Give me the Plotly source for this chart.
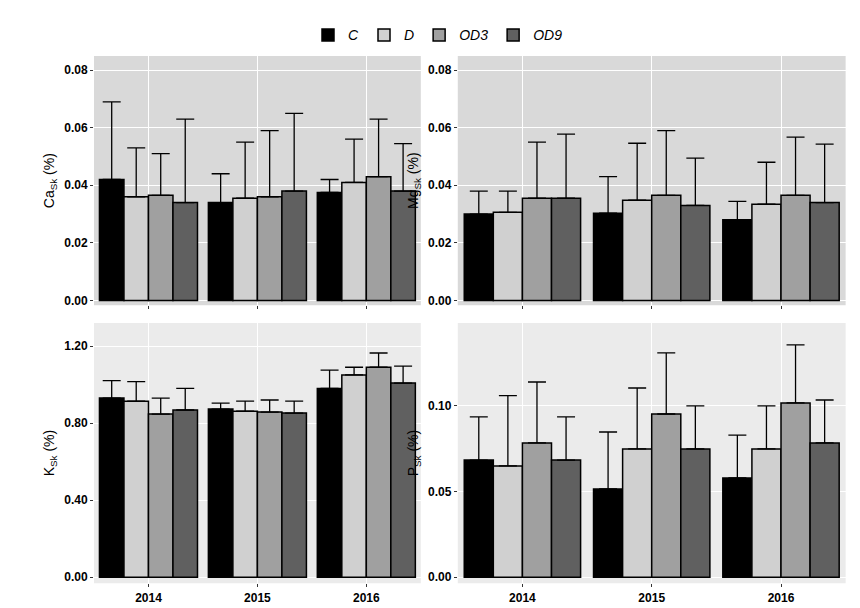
import plotly.graph_objects as go

years = ["2014", "2015", "2016"]
groups = ["C", "D", "OD3", "OD9"]
colors = {"C": "#000000", "D": "#d0d0d0", "OD3": "#a0a0a0", "OD9": "#606060"}

# mean and upper error bar end, per treatment, per year
ca_mean = {"C": [0.042, 0.034, 0.0375], "D": [0.036, 0.0355, 0.041],
           "OD3": [0.0365, 0.036, 0.043], "OD9": [0.034, 0.038, 0.038]}
ca_top = {"C": [0.069, 0.044, 0.042], "D": [0.053, 0.055, 0.056],
          "OD3": [0.051, 0.059, 0.063], "OD9": [0.063, 0.065, 0.0545]}
mg_mean = {"C": [0.030, 0.0303, 0.028], "D": [0.0306, 0.0348, 0.0334],
           "OD3": [0.0355, 0.0365, 0.0365], "OD9": [0.0355, 0.033, 0.034]}
mg_top = {"C": [0.038, 0.043, 0.0344], "D": [0.038, 0.0546, 0.048],
          "OD3": [0.055, 0.059, 0.0567], "OD9": [0.0578, 0.0494, 0.0543]}
k_mean = {"C": [0.93, 0.873, 0.98], "D": [0.914, 0.862, 1.05],
          "OD3": [0.847, 0.857, 1.09], "OD9": [0.868, 0.852, 1.008]}
k_top = {"C": [1.02, 0.904, 1.075], "D": [1.015, 0.914, 1.09],
         "OD3": [0.93, 0.92, 1.164], "OD9": [0.98, 0.914, 1.096]}
p_mean = {"C": [0.0684, 0.0515, 0.058], "D": [0.065, 0.0749, 0.0749],
          "OD3": [0.0784, 0.0953, 0.1018], "OD9": [0.0684, 0.0749, 0.0784]}
p_top = {"C": [0.0936, 0.0848, 0.083], "D": [0.106, 0.1105, 0.10],
         "OD3": [0.114, 0.131, 0.1357], "OD9": [0.0936, 0.10, 0.1035]}

panels = [
    (ca_mean, ca_top, "x", "y", "Ca<sub>Sk</sub> (%)", [-0.0017, 0.0849], [0, 0.02, 0.04, 0.06, 0.08], "#d9d9d9"),
    (mg_mean, mg_top, "x2", "y2", "Mg<sub>Sk</sub> (%)", [-0.0017, 0.0849], [0, 0.02, 0.04, 0.06, 0.08], "#d9d9d9"),
    (k_mean, k_top, "x3", "y3", "K<sub>Sk</sub> (%)", [-0.031, 1.32], [0, 0.4, 0.8, 1.2], "#ebebeb"),
    (p_mean, p_top, "x4", "y4", "P<sub>Sk</sub> (%)", [-0.0035, 0.1485], [0, 0.05, 0.1], "#ebebeb"),
]

fig = go.Figure()
for i, (mean, top, xa, ya, title, rng, ticks, bg) in enumerate(panels):
    for g in groups:
        fig.add_trace(go.Bar(
            x=years, y=mean[g], xaxis=xa, yaxis=ya, name=g,
            showlegend=(i == 0), legendgroup=g,
            marker=dict(color=colors[g], line=dict(color="black", width=1.5)),
            error_y=dict(type="data", symmetric=False,
                         array=[t - m for t, m in zip(top[g], mean[g])],
                         arrayminus=[0, 0, 0], color="black", thickness=1.3, width=9),
        ))

doms_x = [[0.1, 0.48], [0.523, 0.974], [0.1, 0.48], [0.523, 0.974]]
doms_y = [[0.511, 0.921], [0.511, 0.921], [0.054, 0.482], [0.054, 0.482]]
tick_font = dict(family="Arial", size=12, color="black", weight="bold")
layout = dict(
    barmode="group", bargap=0.1, bargroupgap=0,
    width=860, height=608, paper_bgcolor="white",
    margin=dict(l=0, r=0, t=0, b=0, autoexpand=False),
    font=dict(family="Arial", color="black"),
    legend=dict(orientation="h", x=0.5, xanchor="center", y=0.955, yanchor="middle",
                font=dict(size=14, style="italic"), traceorder="normal"),
    shapes=[],
)
for i, p in enumerate(panels):
    sfx = "" if i == 0 else str(i + 1)
    layout["xaxis" + sfx] = dict(domain=doms_x[i], anchor="y" + sfx, showgrid=True,
                                 gridcolor="white", showticklabels=(i >= 2),
                                 tickfont=tick_font, ticks="outside", ticklen=3,
                                 tickcolor="#333", automargin=False)
    layout["yaxis" + sfx] = dict(domain=doms_y[i], anchor="x" + sfx, range=p[5],
                                 tickvals=p[6], tickformat=".2f", gridcolor="white",
                                 zeroline=False, tickfont=tick_font, ticks="outside",
                                 ticklen=3, tickcolor="#333", automargin=False,
                                 title=dict(text=p[4], font=dict(size=14), standoff=6))
    layout["shapes"].append(dict(type="rect", xref="x%s domain" % sfx, yref="y%s domain" % sfx,
                                 x0=0, x1=1, y0=0, y1=1, fillcolor=p[7],
                                 line=dict(width=0), layer="below"))
fig.update_layout(**layout)
fig.update_layout(plot_bgcolor="rgba(0,0,0,0)")
fig.write_html("out.html")
